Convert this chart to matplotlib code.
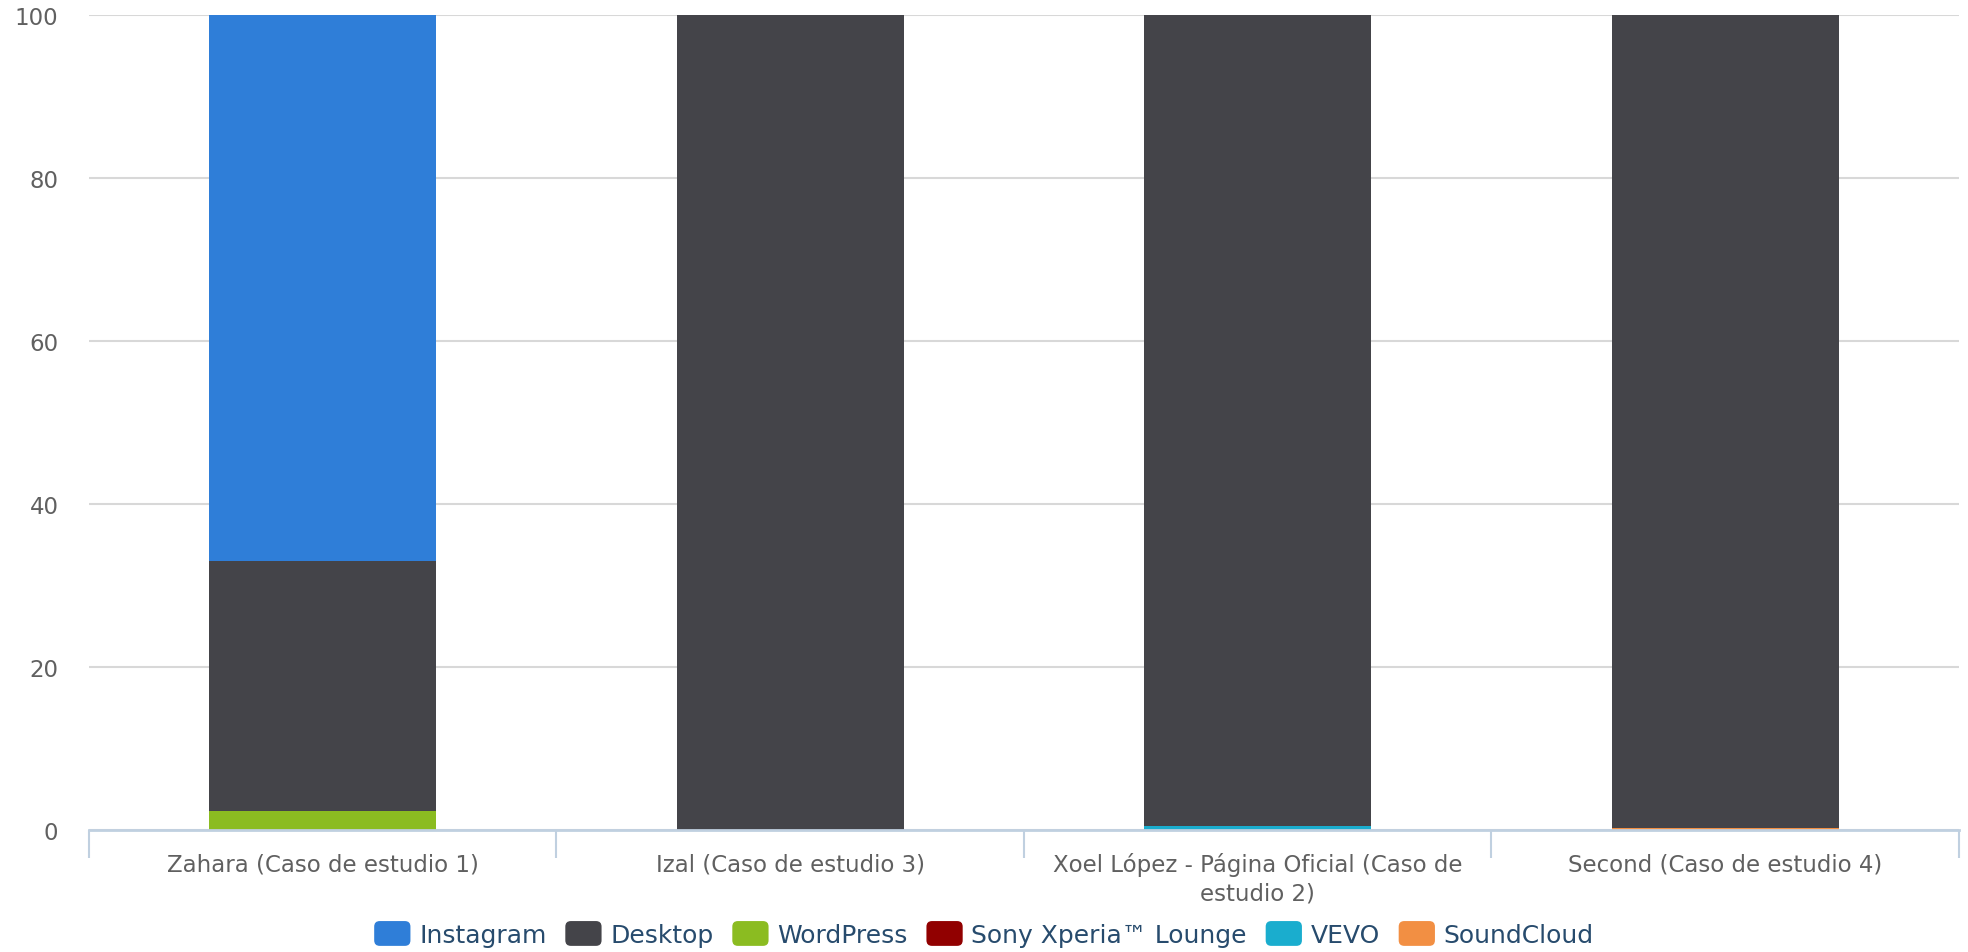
import matplotlib
matplotlib.use("Agg")
import matplotlib.pyplot as plt
import matplotlib.patches as mpatches
from matplotlib.legend_handler import HandlerPatch
import numpy as np

# ---------------------------------------------------------------------------
# Data (percent of visits per source)
# ---------------------------------------------------------------------------
categories = [
    "Zahara (Caso de estudio 1)",
    "Izal (Caso de estudio 3)",
    "Xoel López - Página Oficial (Caso de\nestudio 2)",
    "Second (Caso de estudio 4)",
]
series_names = ["Instagram", "Desktop", "WordPress", "Sony Xperia™ Lounge", "VEVO", "SoundCloud"]
instagram = [67.0, 0.0, 0.0, 0.0]
desktop = [30.7, 100.0, 99.5, 99.7]
wordpress = [2.3, 0.0, 0.0, 0.0]
sony = [0.0, 0.0, 0.0, 0.0]
vevo = [0.0, 0.0, 0.5, 0.0]
soundcloud = [0.0, 0.0, 0.0, 0.3]

colors = ["#2f7ed8", "#444449", "#8bbc21", "#910000", "#1aadce", "#f28f43"]

# stacking order: first series on top, last at the bottom (Highcharts style)
series = [instagram, desktop, wordpress, sony, vevo, soundcloud]

fig = plt.figure(figsize=(19.68, 9.53), dpi=100)
ax = fig.add_axes([0.0452, 0.128, 0.9502, 0.855])

x = np.arange(len(categories))
bottom = np.zeros(len(categories))
for name, vals, col in reversed(list(zip(series_names, series, colors))):
    ax.bar(x, vals, width=0.485, bottom=bottom, color=col,
           linewidth=0, zorder=3)
    bottom += np.array(vals)

ax.set_xlim(-0.5, len(categories) - 0.5)
ax.set_ylim(0, 100)
ax.set_yticks([0, 20, 40, 60, 80, 100])
ax.grid(axis="y", color="#d8d8d8", linewidth=1.5, zorder=0)
ax.tick_params(axis="y", length=0, pad=22, labelsize=16.5, labelcolor="#606060")

for s in ["top", "right", "left"]:
    ax.spines[s].set_visible(False)
ax.spines["bottom"].set_color("#c0d0e0")
ax.spines["bottom"].set_linewidth(2)
ax.spines["bottom"].set_zorder(4)

# category labels centred, tick marks on the category boundaries
ax.set_xticks(x)
ax.set_xticklabels(categories, fontsize=16.5, color="#606060", linespacing=1.3)
ax.tick_params(axis="x", length=0, pad=16)
ax.set_xticks(np.arange(len(categories) + 1) - 0.5, minor=True)
ax.tick_params(axis="x", which="minor", length=20, width=1.5, color="#c0d0e0")


class RoundBox(HandlerPatch):
    def create_artists(self, legend, orig_handle, xdescent, ydescent,
                       width, height, fontsize, trans):
        p = mpatches.FancyBboxPatch((-xdescent, -ydescent), width, height,
                                    boxstyle="round,pad=0,rounding_size=4",
                                    facecolor=orig_handle.get_facecolor(),
                                    edgecolor="none", transform=trans)
        return [p]


handles = [mpatches.Patch(facecolor=c, label=n) for n, c in zip(series_names, colors)]
leg = fig.legend(handles=handles, loc="center", bbox_to_anchor=(0.5, 1 - 935 / 953),
                 ncol=6, frameon=False, fontsize=18, handlelength=1.45,
                 handleheight=1.15, handletextpad=0.35, columnspacing=0.75,
                 handler_map={mpatches.Patch: RoundBox()})
for t in leg.get_texts():
    t.set_color("#274b6d")

fig.savefig("out.png", dpi=100)
